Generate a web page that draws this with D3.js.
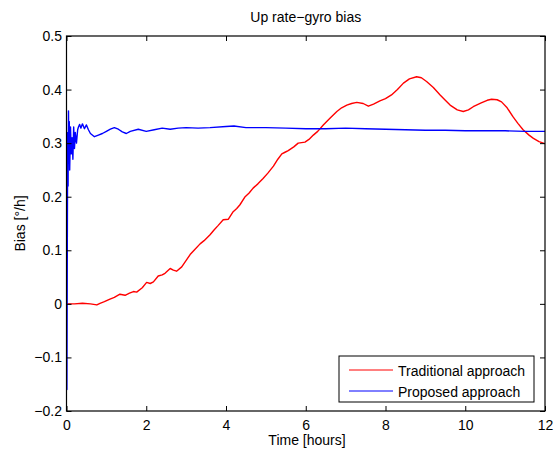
<!DOCTYPE html>
<html><head><meta charset="utf-8">
<script src="https://cdn.jsdelivr.net/npm/d3@7"></script>
<style>body{margin:0;background:#fff;} text{font-family:"Liberation Sans",Arial,sans-serif;}</style>
</head><body>
<svg id="c" width="555" height="449"></svg>
<script>
const title = "Up rate\u2212gyro bias";
const xLabel = "Time [hours]";
const yLabel = "Bias [\u00B0/h]";
const xTicks = [0, 2, 4, 6, 8, 10, 12];
const yTicks = [-0.2, -0.1, 0, 0.1, 0.2, 0.3, 0.4, 0.5];
const seriesNames = ["Traditional approach", "Proposed approach"];
const seriesColors = ["#ff0000", "#0000ff"];

const tradT = [0,0.2,0.4,0.6,0.76,0.84,0.95,1.09,1.2,1.34,1.47,1.58,1.68,1.76,1.9,2.01,2.1,2.18,2.3,2.4,2.47,2.6,2.68,2.76,2.89,3.01,3.1,3.2,3.35,3.45,3.6,3.7,3.8,3.93,4.06,4.18,4.27,4.35,4.48,4.58,4.68,4.8,4.93,5.05,5.19,5.3,5.4,5.48,5.56,5.7,5.81,5.98,6.08,6.19,6.3,6.44,6.6,6.78,6.9,7.03,7.15,7.28,7.44,7.57,7.7,7.86,8.0,8.15,8.3,8.45,8.6,8.78,8.9,9.03,9.2,9.37,9.5,9.62,9.8,9.95,10.08,10.2,10.4,10.55,10.66,10.8,10.91,11.05,11.2,11.32,11.45,11.6,11.71,11.85,12.0];
const tradV = [0,0.0,0.001,0.0,-0.002,0.001,0.004,0.009,0.012,0.018,0.016,0.02,0.023,0.022,0.03,0.04,0.038,0.041,0.052,0.054,0.057,0.066,0.063,0.061,0.069,0.082,0.092,0.1,0.112,0.118,0.129,0.138,0.146,0.157,0.158,0.172,0.178,0.185,0.2,0.207,0.216,0.224,0.234,0.244,0.257,0.27,0.28,0.283,0.286,0.293,0.3,0.302,0.307,0.315,0.322,0.334,0.346,0.359,0.366,0.371,0.374,0.376,0.374,0.369,0.373,0.379,0.383,0.39,0.4,0.412,0.42,0.424,0.422,0.415,0.404,0.39,0.38,0.371,0.362,0.359,0.362,0.368,0.375,0.38,0.382,0.381,0.377,0.366,0.349,0.337,0.325,0.315,0.309,0.303,0.299];

const propT = [0,0.01,0.02,0.03,0.04,0.05,0.06,0.07,0.08,0.1,0.12,0.14,0.16,0.18,0.2,0.22,0.25,0.28,0.3,0.33,0.36,0.4,0.45,0.5,0.55,0.6,0.7,0.8,0.9,1.0,1.1,1.2,1.3,1.4,1.5,1.6,1.8,2.0,2.2,2.4,2.6,2.8,3.0,3.3,3.6,4.0,4.2,4.5,5.0,5.5,6.0,6.5,7.0,7.5,8.0,8.5,9.0,9.5,10.0,10.5,11.0,11.5,12.0];
const propV = [0,-0.16,0.1,0.32,0.22,0.36,0.27,0.34,0.25,0.33,0.28,0.31,0.27,0.33,0.29,0.32,0.3,0.325,0.33,0.335,0.328,0.336,0.327,0.334,0.325,0.318,0.312,0.315,0.318,0.322,0.326,0.329,0.326,0.321,0.318,0.322,0.326,0.322,0.325,0.328,0.326,0.328,0.329,0.328,0.329,0.331,0.332,0.329,0.329,0.328,0.327,0.327,0.328,0.327,0.326,0.325,0.324,0.324,0.323,0.323,0.323,0.322,0.322];

const FS = 14;
const svg = d3.select("#c");
const L = 66.5, R = 545, T = 36, B = 411;
const x = d3.scaleLinear().domain([0, 12]).range([L, R]);
const y = d3.scaleLinear().domain([-0.2, 0.5]).range([B, T]);

svg.append("clipPath").attr("id","pc").append("rect")
  .attr("x", L).attr("y", T).attr("width", R - L).attr("height", B - T);

const line = d3.line().x(d => x(d[0])).y(d => y(d[1]));
const g = svg.append("g").attr("clip-path","url(#pc)");
g.append("path").datum(tradT.map((t,i)=>[t,tradV[i]]))
  .attr("d", line).attr("fill","none").attr("stroke",seriesColors[0]).attr("stroke-width",1.4).attr("stroke-linejoin","round");
g.append("path").datum(propT.map((t,i)=>[t,propV[i]]))
  .attr("d", line).attr("fill","none").attr("stroke",seriesColors[1]).attr("stroke-width",1.4).attr("stroke-linejoin","round");

const fmtY = d => (d === 0 ? "0" : d3.format(".1f")(d).replace("-", "\u2212"));
const ax = d3.axisBottom(x).tickValues(xTicks).tickSize(-5).tickPadding(9.5).tickFormat(d3.format("d"));
const axT = d3.axisTop(x).tickValues(xTicks).tickSize(-5).tickFormat("");
const ay = d3.axisLeft(y).tickValues(yTicks).tickSize(-5).tickPadding(4.5).tickFormat(fmtY);
const ayR = d3.axisRight(y).tickValues(yTicks).tickSize(-5).tickFormat("");
function style(sel){ sel.selectAll(".domain").remove(); sel.selectAll("line").attr("stroke","#000");
  sel.selectAll("text").attr("font-size",FS).attr("fill","#000").attr("font-family","Liberation Sans, Arial, sans-serif"); }
svg.append("g").attr("transform",`translate(0,${B})`).call(ax).call(style);
svg.append("g").attr("transform",`translate(0,${T})`).call(axT).call(style);
svg.append("g").attr("transform",`translate(${L},0)`).call(ay).call(style);
svg.append("g").attr("transform",`translate(${R},0)`).call(ayR).call(style);
svg.append("rect").attr("x",L).attr("y",T).attr("width",R-L).attr("height",B-T)
  .attr("fill","none").attr("stroke","#000").attr("stroke-width",1.2);

svg.append("text").attr("x",(L+R)/2).attr("y",22).attr("text-anchor","middle").attr("font-size",FS).text(title);
svg.append("text").attr("x",307).attr("y",445).attr("text-anchor","middle").attr("font-size",FS).text(xLabel);
svg.append("text").attr("transform",`translate(25,${(T+B)/2}) rotate(-90)`).attr("text-anchor","middle").attr("font-size",FS).text(yLabel);

const lg = svg.append("g");
lg.append("rect").attr("x",339).attr("y",356).attr("width",195).attr("height",46).attr("fill","#fff").attr("stroke","#000");
seriesNames.forEach((n,i)=>{
  const yy = 370 + i*21;
  lg.append("line").attr("x1",349).attr("x2",393).attr("y1",yy).attr("y2",yy).attr("stroke",seriesColors[i]).attr("stroke-width",1);
  lg.append("text").attr("x",398).attr("y",yy+6).attr("font-size",FS).text(n);
});
</script>
</body></html>
